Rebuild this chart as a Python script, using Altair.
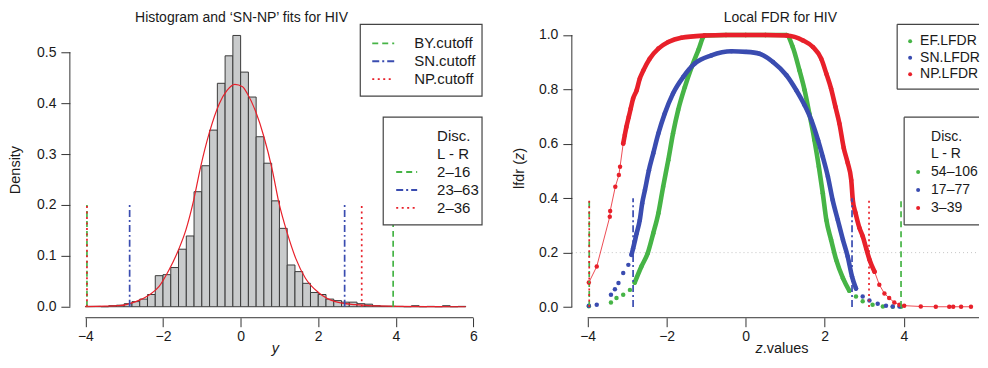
import altair as alt
import pandas as pd

# ---------------- data ----------------
hist_start = [-4.0, -3.8, -3.6, -3.4, -3.2, -3.0, -2.8, -2.6, -2.4, -2.2, -2.0, -1.8, -1.6,
              -1.4, -1.2, -1.0, -0.8, -0.6, -0.4, -0.2, 0.0, 0.2, 0.4, 0.6, 0.8, 1.0, 1.2,
              1.4, 1.6, 1.8, 2.0, 2.2, 2.4, 2.6, 2.8, 3.0, 3.2, 3.4, 3.6, 3.8, 4.0, 4.2,
              4.4, 4.6, 4.8, 5.0, 5.2, 5.4, 5.6]
hist_density = [0.0007, 0.0007, 0.0, 0.002, 0.003, 0.006, 0.010, 0.015, 0.024, 0.061, 0.063,
                0.077, 0.113, 0.139, 0.226, 0.277, 0.347, 0.439, 0.493, 0.533, 0.461, 0.412,
                0.334, 0.282, 0.208, 0.154, 0.082, 0.069, 0.046, 0.028, 0.024, 0.015, 0.012,
                0.009, 0.009, 0.006, 0.005, 0.002, 0.001, 0.001, 0.0007, 0.0, 0.002, 0.0,
                0.0007, 0.0, 0.002, 0.0, 0.0007]
bin_width = 0.2

curve_x = [-4.0, -3.5, -3.13, -2.7, -2.35, -2.1, -1.84, -1.6, -1.41, -1.22, -1.03, -0.81,
           -0.55, -0.35, -0.15, 0.05, 0.17, 0.39, 0.60, 0.815, 0.99, 1.20, 1.42, 1.67, 2.02,
           2.44, 2.96, 3.5, 4.0, 5.0, 5.8]
curve_y = [0.0003, 0.001, 0.002, 0.010, 0.0235, 0.040, 0.073, 0.112, 0.151, 0.206, 0.275,
           0.341, 0.399, 0.425, 0.437, 0.432, 0.419, 0.383, 0.334, 0.269, 0.203, 0.145,
           0.095, 0.056, 0.027, 0.010, 0.004, 0.0015, 0.0005, 0.0001, 0.0]

cut_names = ["BY.cutoff", "SN.cutoff", "NP.cutoff"]
cut_lo = [-3.96, -2.86, -3.96]
cut_hi = [3.93, 2.68, 3.12]
disc_hist = ["2\u201316", "23\u201363", "2\u201336"]

ef_z = [-3.97, -3.41, -3.27, -3.10, -2.93, -2.81, -2.64, -2.48, -2.34, -2.21, -2.09, -1.96,
        -1.84, -1.71, -1.54, -1.37, -1.20, -1.04, -0.5, 0.0, 0.5, 1.03, 1.19, 1.36, 1.49,
        1.61, 1.74, 1.85, 1.95, 2.04, 2.16, 2.29, 2.46, 2.62, 2.79, 2.96, 3.21, 3.47, 3.72,
        3.93]
ef_v = [0.003, 0.017, 0.033, 0.045, 0.063, 0.090, 0.149, 0.198, 0.271, 0.345, 0.442, 0.540,
        0.638, 0.724, 0.809, 0.882, 0.944, 0.998, 1.0, 1.0, 1.0, 1.0, 0.956, 0.870, 0.797,
        0.711, 0.613, 0.516, 0.418, 0.320, 0.247, 0.173, 0.106, 0.060, 0.039, 0.021, 0.008,
        0.002, 0.001, 0.001]

sn_z = [-3.97, -3.77, -3.41, -3.31, -3.22, -3.10, -2.97, -2.89, -2.85, -2.76, -2.68, -2.62,
        -2.55, -2.45, -2.34, -2.21, -2.05, -1.84, -1.58, -1.29, -0.87, -0.36, 0.01, 0.35,
        0.69, 1.03, 1.28, 1.49, 1.66, 1.83, 1.95, 2.08, 2.20, 2.33, 2.46, 2.58, 2.69, 2.79,
        2.96, 3.13, 3.34, 3.55, 3.72, 3.89]
sn_v = [0.005, 0.008, 0.045, 0.065, 0.088, 0.125, 0.155, 0.192, 0.215, 0.271, 0.320, 0.381,
        0.430, 0.503, 0.565, 0.638, 0.711, 0.785, 0.846, 0.895, 0.925, 0.940, 0.938, 0.931,
        0.901, 0.852, 0.797, 0.742, 0.687, 0.613, 0.552, 0.479, 0.393, 0.320, 0.247, 0.186,
        0.112, 0.068, 0.039, 0.024, 0.012, 0.005, 0.002, 0.002]

np_z = [-3.97, -3.77, -3.44, -3.43, -3.30, -3.21, -3.18, -3.10, -3.06, -3.02, -2.96, -2.91,
        -2.85, -2.76, -2.68, -2.59, -2.43, -2.21, -1.96, -1.63, -1.04, -0.5, 0.0, 0.5, 1.03,
        1.45, 1.70, 1.91, 2.04, 2.16, 2.27, 2.37, 2.48, 2.58, 2.67, 2.71, 2.78, 2.88, 2.96,
        3.05, 3.13, 3.26, 3.38, 3.51, 3.63, 3.76, 3.89, 4.01, 4.43, 4.81, 5.15, 5.25, 5.45,
        5.70]
np_v = [0.090, 0.149, 0.332, 0.353, 0.442, 0.485, 0.516, 0.601, 0.632, 0.662, 0.699, 0.730,
        0.766, 0.797, 0.840, 0.870, 0.913, 0.950, 0.974, 0.990, 0.998, 1.0, 1.0, 1.0, 0.998,
        0.980, 0.956, 0.913, 0.858, 0.803, 0.736, 0.675, 0.585, 0.530, 0.467, 0.393, 0.345,
        0.290, 0.260, 0.215, 0.175, 0.130, 0.082, 0.050, 0.033, 0.017, 0.008, 0.005, 0.002,
        0.001, 0.001, 0.001, 0.001, 0.001]

lfdr_names = ["EF.LFDR", "SN.LFDR", "NP.LFDR"]
disc_lfdr = ["54\u2013106", "17\u201377", "3\u201339"]
lfdr_cut_lo = [-3.96, -2.85, -3.96]
lfdr_cut_hi = [3.93, 2.69, 3.12]

titles = ["Histogram and \u2018SN-NP\u2019 fits for HIV", "Local FDR for HIV"]

# ---------------- styles ----------------
FONT = "Liberation Sans, Arial, Helvetica, sans-serif"
GREEN, BLUE, RED = "#46b446", "#3a4cb0", "#e8202a"
COLORS = [GREEN, BLUE, RED]
DASHES = [[6, 4], [7, 3, 2, 3], [2, 3.5]]
BAND_LO = [-2.85, -2.92, -3.12]
BAND_HI = [2.65, 2.8, 3.3]
AX = "#333333"
TXT = "#1a1a1a"
BOXC = "#444444"

W1, W2, H = 420, 408, 296
XT = 331   # x-axis title baseline (below plot top)
TT = 0     # chart title baseline (at plot top)
xs1 = alt.Scale(domain=[-4.4, 6.4], nice=False, zero=False)
ys1 = alt.Scale(domain=[-0.0216, 0.5588], nice=False, zero=False)
xs2 = alt.Scale(domain=[-4.4, 5.903], nice=False, zero=False)
ys2 = alt.Scale(domain=[-0.0393, 1.0466], nice=False, zero=False)

dummy = pd.DataFrame({"k": [0]})


def xaxis(vals):
    return alt.Axis(values=vals, format="d", title=None, domain=False, grid=False,
                    tickSize=9, tickColor=AX, tickWidth=1, labelFontSize=14, labelFont=FONT,
                    labelColor=TXT, labelPadding=3, labelFlush=False, labelOverlap=False)


def yaxis(vals):
    return alt.Axis(values=vals, format=".1f", title=None, domain=False, grid=False,
                    tickSize=9, tickColor=AX, tickWidth=1, labelFontSize=14, labelFont=FONT,
                    labelColor=TXT, labelPadding=5, labelOverlap=False)


def text(s, x, y, size=15, **kw):
    props = dict(text=s, align="left", baseline="middle", font=FONT, fontSize=size, color=TXT)
    props.update(kw)
    return alt.Chart(dummy).mark_text(**props).encode(x=alt.value(x), y=alt.value(y))


def box(x0, x1, y0, y1):
    return [alt.Chart(dummy).mark_rect(fill="white", stroke=BOXC, strokeWidth=1.2).encode(
        x=alt.value(x0), x2=alt.value(x1), y=alt.value(y0), y2=alt.value(y1))]


def open_box(x0, x1, y0, y1):
    # legend box whose right side lies beyond the visible edge of the panel
    return [
        alt.Chart(dummy).mark_rect(fill="white", clip=True).encode(
            x=alt.value(x0), x2=alt.value(x1), y=alt.value(y0), y2=alt.value(y1)),
        alt.Chart(dummy).mark_rule(color=BOXC, strokeWidth=1.2, clip=True).encode(
            x=alt.value(x0), x2=alt.value(x1), y=alt.value(y0)),
        alt.Chart(dummy).mark_rule(color=BOXC, strokeWidth=1.2, clip=True).encode(
            x=alt.value(x0), x2=alt.value(x1), y=alt.value(y1)),
        alt.Chart(dummy).mark_rule(color=BOXC, strokeWidth=1.2).encode(
            x=alt.value(x0), y=alt.value(y0), y2=alt.value(y1)),
    ]


def sample_line(i, x0, x1, y):
    return alt.Chart(dummy).mark_rule(color=COLORS[i], strokeDash=DASHES[i], strokeWidth=1.8).encode(
        x=alt.value(x0), x2=alt.value(x1), y=alt.value(y))


def sample_dot(i, x, y):
    return alt.Chart(dummy).mark_circle(color=COLORS[i], size=16, opacity=1).encode(
        x=alt.value(x), y=alt.value(y))


def cut_rules(xs, ys, lo, hi, top):
    out = []
    for i in range(len(lo)):
        d = pd.DataFrame({"x": [lo[i], hi[i]]})
        out.append(alt.Chart(d).mark_rule(color=COLORS[i], strokeDash=DASHES[i], strokeWidth=1.7).encode(
            x=alt.X("x:Q", scale=xs),
            y=alt.YDatum(0, scale=ys), y2=alt.Y2Datum(top)))
    return out


# ---------------- left panel ----------------
hist_df = pd.DataFrame({"x0": hist_start, "d": hist_density})
hist_df["x1"] = hist_df["x0"] + bin_width
curve_df = pd.DataFrame({"x0": curve_x, "d": curve_y})

left_layers = [
    alt.Chart(hist_df).mark_rect(fill="#c9cbcc", stroke="#3a3a3a", strokeWidth=1).encode(
        x=alt.X("x0:Q", scale=xs1, axis=xaxis([-4, -2, 0, 2, 4, 6])), x2="x1:Q",
        y=alt.Y("d:Q", scale=ys1, axis=yaxis([0, 0.1, 0.2, 0.3, 0.4, 0.5])), y2=alt.Y2Datum(0)),
    alt.Chart(curve_df).mark_line(color=RED, strokeWidth=1.2, interpolate="monotone").encode(
        x=alt.X("x0:Q", scale=xs1), y=alt.Y("d:Q", scale=ys1)),
]
left_layers += cut_rules(xs1, ys1, cut_lo, cut_hi, 0.2)
left_layers += [
    alt.Chart(dummy).mark_rule(color=AX, strokeWidth=1).encode(
        x=alt.value(0), y=alt.YDatum(0, scale=ys1), y2=alt.Y2Datum(0.5)),
    alt.Chart(dummy).mark_rule(color=AX, strokeWidth=1).encode(
        y=alt.value(H), x=alt.XDatum(-4, scale=xs1), x2=alt.X2Datum(6)),
]
left_layers += box(291, 413, 2, 74)
left_layers += box(314, 413, 95, 203)
left_layers += [
    text("Disc.", 368, 114),
    text("L - R", 368, 132),
    text("Density", -54, 148, size=14.5, angle=270, align="center"),
    text("y", 206, XT, size=14.5, align="center", baseline="alphabetic", fontStyle="italic"),
    text(titles[0], 172, TT, size=14, align="center", baseline="alphabetic"),
]
for i, name in enumerate(cut_names):
    left_layers.append(sample_line(i, 303, 325, 21 + 18 * i))
    left_layers.append(text(name, 345, 21 + 18 * i))
    left_layers.append(sample_line(i, 327, 348, 150 + 18 * i))
    left_layers.append(text(disc_hist[i], 368, 150 + 18 * i))

left = alt.layer(*left_layers).properties(width=W1, height=H)

# ---------------- right panel ----------------
series = [(ef_z, ef_v), (sn_z, sn_v), (np_z, np_v)]
right_layers = [
    alt.Chart(dummy).mark_rule(color="#c4c4c4", strokeDash=[1, 3], strokeWidth=1).encode(
        y=alt.YDatum(0.2, scale=ys2, axis=yaxis([0, 0.2, 0.4, 0.6, 0.8, 1.0])),
        x=alt.value(0), x2=alt.value(W2)),
    alt.Chart(dummy).mark_rule(color=AX, strokeWidth=1).encode(
        x=alt.XDatum(-4, scale=xs2, axis=xaxis([-4, -2, 0, 2, 4])), x2=alt.value(W2),
        y=alt.value(H)),
    alt.Chart(dummy).mark_rule(color=AX, strokeWidth=1).encode(
        x=alt.value(0), y=alt.YDatum(0, scale=ys2), y2=alt.Y2Datum(1.0)),
]
for i, (zz, vv) in enumerate(series):
    d = pd.DataFrame({"z": zz, "v": vv})
    band = d[(d["z"] >= BAND_LO[i]) & (d["z"] <= BAND_HI[i])]
    if i == 2:
        right_layers.append(alt.Chart(d).mark_line(color=COLORS[i], strokeWidth=0.8).encode(
            x=alt.X("z:Q", scale=xs2), y=alt.Y("v:Q", scale=ys2)))
    right_layers.append(alt.Chart(band).mark_line(color=COLORS[i], strokeWidth=4.6,
                                                  interpolate="monotone", strokeCap="round").encode(
        x=alt.X("z:Q", scale=xs2), y=alt.Y("v:Q", scale=ys2)))
    right_layers.append(alt.Chart(d).mark_circle(color=COLORS[i], size=20, opacity=1).encode(
        x=alt.X("z:Q", scale=xs2), y=alt.Y("v:Q", scale=ys2)))
right_layers += cut_rules(xs2, ys2, lfdr_cut_lo, lfdr_cut_hi, 0.4)
right_layers += open_box(326, W2, 2, 67)
right_layers += open_box(333, W2, 95, 203)
right_layers += [
    text("Disc.", 360, 115, size=14),
    text("L - R", 360, 132, size=14),
    text("lfdr (", -52, 167, size=14.5, angle=270),
    text("z", -52, 138, size=14.5, angle=270, fontStyle="italic"),
    text(")", -52, 130.75, size=14.5, angle=270),
    text("z", 184, XT, size=14.5, baseline="alphabetic", fontStyle="italic"),
    text(".values", 191.2, XT, size=14.5, baseline="alphabetic"),
    text(titles[1], 209, TT, size=14, align="center", baseline="alphabetic"),
]
for i, name in enumerate(lfdr_names):
    right_layers.append(sample_dot(i, 339, 19 + 16.5 * i))
    right_layers.append(text(name, 349, 19 + 16.5 * i, size=14))
    right_layers.append(sample_dot(i, 347, 150 + 18 * i))
    right_layers.append(text(disc_lfdr[i], 360, 150 + 18 * i, size=14))

right = alt.layer(*right_layers).properties(width=W2, height=H)

chart = alt.hconcat(left, right, spacing=23).properties(
    padding={"left": 0, "top": 3, "right": 0, "bottom": 0},
    background="white",
).configure_view(stroke=None)

chart.save("out.html", embed_options={"renderer": "svg", "actions": False})
